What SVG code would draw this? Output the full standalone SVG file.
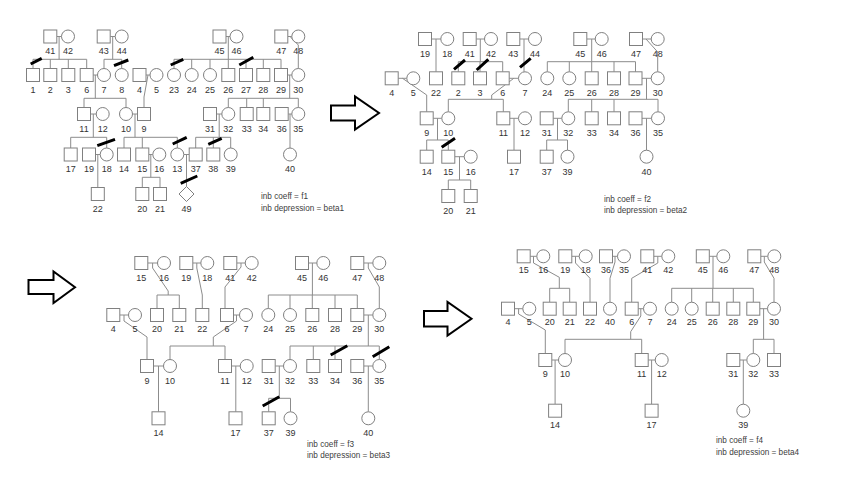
<svg xmlns="http://www.w3.org/2000/svg" width="842" height="498" viewBox="0 0 842 498">
<style>
.s{fill:#fff;stroke:#808080;stroke-width:1}
.l{fill:none;stroke:#8c8c8c;stroke-width:1}
.x{stroke:#000;stroke-width:3;fill:none}
.t{font-family:"Liberation Sans",Arial,sans-serif;font-size:9px;fill:#333;text-anchor:middle}
.n{font-family:"Liberation Sans",Arial,sans-serif;font-size:8.2px;fill:#404040}
.a{fill:#fff;stroke:#000;stroke-width:2;stroke-linejoin:miter}
</style>
<rect width="842" height="498" fill="#fff"/>
<g id="connectors">
<path class="l" d="M56.8,36.5H61.5 M110.2,36.5H115.2 M226,36.5H230 M287.8,36.5H291.8 M93.2,75H97.5 M146,75H150 M287.5,75H291.8 M90.5,114H96.2 M132.5,114H137.5 M216.5,114H221.8 M288.2,114H291.8 M95.5,154.5H100.2 M148.8,154.5H152.8 M183.8,154.5H189.2 M59.1,36.5V59.3 M33,59.3H86.7 M33,59.3V68.5 M50.3,59.3V68.5 M68.3,59.3V68.5 M86.7,59.3V68.5 M112.7,36.5V59.3 M104,59.3H121.7 M104,59.3V68.5 M121.7,59.3V68.5 M228.3,36.5V59.3 M174,59.3H281 M174,59.3V68.5 M191.7,59.3V68.5 M210,59.3V68.5 M228.3,59.3V68.5 M246,59.3V68.5 M263.3,59.3V68.5 M281,59.3V68.5 M290,36.5L298.3,45V68.5 M95.3,75V98.3 M84,98.3H126 M84,98.3V107.5 M126,98.3V107.5 M148,75L144,97V107.5 M289.7,75V98.3 M228.3,98.3H298.3 M228.3,98.3V107.5 M246.7,98.3V107.5 M263.3,98.3V107.5 M298.3,98.3V107.5 M93.3,114V137.3 M70.7,137.3H106.7 M70.7,137.3V148 M106.7,137.3V148 M135,114V137.3 M124,137.3H177.3 M124,137.3V148 M142.3,137.3V148 M177.3,137.3V148 M219.2,114V137.3 M195.7,137.3H230.7 M195.7,137.3V148 M213.3,137.3V148 M230.7,137.3V148 M290,114V148 M97.8,154.5V187.5 M150.8,154.5V177.3 M142.3,177.3H160 M142.3,177.3V187.5 M160,177.3V187.5 M186.5,154.5V186.5"/>
<path class="l" d="M431.5,39H440.8 M476.2,39H484.5 M519.8,39H528.5 M586.8,39H595.2 M642.5,39H651.2 M398.2,78.3H406.8 M509.2,78.3H518.5 M642,78.3H651.2 M433.2,118.3H441.8 M509.8,118.3H518.5 M553.2,118.3H561.8 M642,118.3H651.5 M454.8,156.7H464.2 M436,39V71.8 M480.3,39V61.7 M458.3,61.7H502.7 M458.3,61.7V71.8 M480,61.7V71.8 M502.7,61.7V71.8 M524,39V71.8 M591.7,39V61.7 M547.3,61.7H635.5 M547.3,61.7V71.8 M569.3,61.7V71.8 M591.7,61.7V71.8 M614,61.7V71.8 M635.5,61.7V71.8 M646,39L657.7,52V71.8 M402.5,78.3L426.7,95V111.8 M513.8,78.3L491.7,95V99.3 M448.3,99.3H503.3 M448.3,99.3V111.8 M503.3,99.3V111.8 M646.5,78.3V99.3 M568.3,99.3H658 M568.3,99.3V111.8 M591.7,99.3V111.8 M614,99.3V111.8 M658,99.3V111.8 M437.5,118.3V140 M426.7,140H448.3 M426.7,140V150.2 M448.3,140V150.2 M514,118.3V150.2 M557.5,118.3V140 M546.7,140H567.5 M546.7,140V150.2 M567.5,140V150.2 M646.5,118.3V150.2 M459.5,156.7V180 M448.3,180H470.7 M448.3,180V189.5 M470.7,180V189.5"/>
<path class="l" d="M147.8,263H157.5 M192.8,263H200.8 M236.8,263H245.2 M308.5,263H316.8 M363.8,263H372.8 M119.8,315H128.5 M233.5,315H239.5 M363.8,315H372.8 M153.5,366H163.5 M231.5,366H240.2 M275.2,366H283.5 M363.8,366H372.8 M152.6,263V268L168.2,291V295 M157,295H179.3 M157,295V308.5 M179.3,295V308.5 M196.8,263V268L202.3,295V308.5 M241,263V267L225,287V308.5 M312.4,263V295 M268.3,295H357.3 M268.3,295V308.5 M290,295V308.5 M312.3,295V308.5 M335,295V308.5 M357.3,295V308.5 M368.3,263V268L379.3,287V308.5 M124,315V321L147,337V359.5 M236.5,315V321L213.3,337V346 M170,346H225 M170,346V359.5 M225,346V359.5 M368.3,315V346 M290,346H379.3 M290,346V359.5 M313.3,346V359.5 M335,346V359.5 M379.3,346V359.5 M158.5,366V411.8 M235.8,366V411.8 M279.3,366V398.3 M268.7,398.3H290.5 M268.7,398.3V411.8 M290.5,398.3V411.8 M368.3,366V411.8"/>
<path class="l" d="M530.2,256.3H536.8 M571.8,256.3H579.2 M612.5,256.3H617.5 M653.8,256.3H661.8 M709.3,256.3H716.8 M760.8,256.3H767.8 M514.5,308.7H522.8 M638.2,308.7H643.5 M759.8,308.7H767.5 M551.8,360H558.5 M648.2,360H655.2 M739.8,360H746.5 M533.5,256.3V263L559.3,277.3V288.3 M549.7,288.3H569.7 M549.7,288.3V302.2 M569.7,288.3V302.2 M575.5,256.3V263L590,278.3V302.2 M615,256.3V262L610,278.3V302.2 M657.8,256.3V263L631.7,278.3V302.2 M713,256.3V288.3 M671.7,288.3H753.3 M671.7,288.3V302.2 M691.7,288.3V302.2 M712.7,288.3V302.2 M733.3,288.3V302.2 M753.3,288.3V302.2 M764.3,256.3V262L774,278.3V302.2 M518.6,308.7V314L545.3,330V353.5 M640.8,308.7V316L630.7,331.7V339.3 M565,339.3H641.7 M565,339.3V353.5 M641.7,339.3V353.5 M763.6,308.7V339.3 M753.3,339.3H774 M753.3,339.3V353.5 M774,339.3V353.5 M555.1,360V404.2 M651.6,360V404.2 M743.3,360V404.2"/>
</g>
<g id="panel-f1">
<g id="A41"><rect class="s" x="43.8" y="30" width="13" height="13"/><text class="t" x="50.3" y="54">41</text></g>
<g id="A42"><circle class="s" cx="68" cy="36.5" r="6.5"/><text class="t" x="68" y="54">42</text></g>
<g id="A43"><rect class="s" x="97.2" y="30" width="13" height="13"/><text class="t" x="103.7" y="54">43</text></g>
<g id="A44"><circle class="s" cx="121.7" cy="36.5" r="6.5"/><text class="t" x="121.7" y="54">44</text></g>
<g id="A45"><rect class="s" x="213" y="30" width="13" height="13"/><text class="t" x="219.5" y="54">45</text></g>
<g id="A46"><circle class="s" cx="236.5" cy="36.5" r="6.5"/><text class="t" x="236.5" y="54">46</text></g>
<g id="A47"><rect class="s" x="274.8" y="30" width="13" height="13"/><text class="t" x="281.3" y="54">47</text></g>
<g id="A48"><circle class="s" cx="298.3" cy="36.5" r="6.5"/><text class="t" x="298.3" y="54">48</text></g>
<g id="A1"><rect class="s" x="26.5" y="68.5" width="13" height="13"/><text class="t" x="33" y="92.7">1</text></g>
<g id="A2"><rect class="s" x="43.8" y="68.5" width="13" height="13"/><text class="t" x="50.3" y="92.7">2</text></g>
<g id="A3"><rect class="s" x="61.8" y="68.5" width="13" height="13"/><text class="t" x="68.3" y="92.7">3</text></g>
<g id="A6"><rect class="s" x="80.2" y="68.5" width="13" height="13"/><text class="t" x="86.7" y="92.7">6</text></g>
<g id="A7"><circle class="s" cx="104" cy="75" r="6.5"/><text class="t" x="104" y="92.7">7</text></g>
<g id="A8"><circle class="s" cx="121.7" cy="75" r="6.5"/><text class="t" x="121.7" y="92.7">8</text></g>
<g id="A4"><rect class="s" x="133" y="68.5" width="13" height="13"/><text class="t" x="139.5" y="92.7">4</text></g>
<g id="A5"><circle class="s" cx="156.5" cy="75" r="6.5"/><text class="t" x="156.5" y="92.7">5</text></g>
<g id="A23"><circle class="s" cx="174" cy="75" r="6.5"/><text class="t" x="174" y="92.7">23</text></g>
<g id="A24"><circle class="s" cx="191.7" cy="75" r="6.5"/><text class="t" x="191.7" y="92.7">24</text></g>
<g id="A25"><circle class="s" cx="210" cy="75" r="6.5"/><text class="t" x="210" y="92.7">25</text></g>
<g id="A26"><rect class="s" x="221.8" y="68.5" width="13" height="13"/><text class="t" x="228.3" y="92.7">26</text></g>
<g id="A27"><rect class="s" x="239.5" y="68.5" width="13" height="13"/><text class="t" x="246" y="92.7">27</text></g>
<g id="A28"><rect class="s" x="256.8" y="68.5" width="13" height="13"/><text class="t" x="263.3" y="92.7">28</text></g>
<g id="A29"><rect class="s" x="274.5" y="68.5" width="13" height="13"/><text class="t" x="281" y="92.7">29</text></g>
<g id="A30"><circle class="s" cx="298.3" cy="75" r="6.5"/><text class="t" x="298.3" y="92.7">30</text></g>
<g id="A11"><rect class="s" x="77.5" y="107.5" width="13" height="13"/><text class="t" x="84" y="131.7">11</text></g>
<g id="A12"><circle class="s" cx="102.7" cy="114" r="6.5"/><text class="t" x="102.7" y="131.7">12</text></g>
<g id="A10"><circle class="s" cx="126" cy="114" r="6.5"/><text class="t" x="126" y="131.7">10</text></g>
<g id="A9"><rect class="s" x="137.5" y="107.5" width="13" height="13"/><text class="t" x="144" y="131.7">9</text></g>
<g id="A31"><rect class="s" x="203.5" y="107.5" width="13" height="13"/><text class="t" x="210" y="131.7">31</text></g>
<g id="A32"><circle class="s" cx="228.3" cy="114" r="6.5"/><text class="t" x="228.3" y="131.7">32</text></g>
<g id="A33"><rect class="s" x="240.2" y="107.5" width="13" height="13"/><text class="t" x="246.7" y="131.7">33</text></g>
<g id="A34"><rect class="s" x="256.8" y="107.5" width="13" height="13"/><text class="t" x="263.3" y="131.7">34</text></g>
<g id="A36"><rect class="s" x="275.2" y="107.5" width="13" height="13"/><text class="t" x="281.7" y="131.7">36</text></g>
<g id="A35"><circle class="s" cx="298.3" cy="114" r="6.5"/><text class="t" x="298.3" y="131.7">35</text></g>
<g id="A17"><rect class="s" x="64.2" y="148" width="13" height="13"/><text class="t" x="70.7" y="172.2">17</text></g>
<g id="A19"><rect class="s" x="82.5" y="148" width="13" height="13"/><text class="t" x="89" y="172.2">19</text></g>
<g id="A18"><circle class="s" cx="106.7" cy="154.5" r="6.5"/><text class="t" x="106.7" y="172.2">18</text></g>
<g id="A14"><rect class="s" x="117.5" y="148" width="13" height="13"/><text class="t" x="124" y="172.2">14</text></g>
<g id="A15"><rect class="s" x="135.8" y="148" width="13" height="13"/><text class="t" x="142.3" y="172.2">15</text></g>
<g id="A16"><circle class="s" cx="159.3" cy="154.5" r="6.5"/><text class="t" x="159.3" y="172.2">16</text></g>
<g id="A13"><circle class="s" cx="177.3" cy="154.5" r="6.5"/><text class="t" x="177.3" y="172.2">13</text></g>
<g id="A37"><rect class="s" x="189.2" y="148" width="13" height="13"/><text class="t" x="195.7" y="172.2">37</text></g>
<g id="A38"><rect class="s" x="206.8" y="148" width="13" height="13"/><text class="t" x="213.3" y="172.2">38</text></g>
<g id="A39"><circle class="s" cx="230.7" cy="154.5" r="6.5"/><text class="t" x="230.7" y="172.2">39</text></g>
<g id="A40"><circle class="s" cx="290" cy="154.5" r="6.5"/><text class="t" x="290" y="172.2">40</text></g>
<g id="A22"><rect class="s" x="91.3" y="187.5" width="13" height="13"/><text class="t" x="97.8" y="211.7">22</text></g>
<g id="A20"><rect class="s" x="135.8" y="187.5" width="13" height="13"/><text class="t" x="142.3" y="211.7">20</text></g>
<g id="A21"><rect class="s" x="153.5" y="187.5" width="13" height="13"/><text class="t" x="160" y="211.7">21</text></g>
<g id="A49"><polygon class="s" points="186.5,186.5 194,194 186.5,201.5 179,194"/><text class="t" x="186.5" y="211.7">49</text></g>
<g id="A-note"><text class="n" x="261" y="199">inb coeff = f1</text><text class="n" x="261" y="211">inb depression = beta1</text></g>
</g>
<g id="panel-f2">
<g id="B19"><rect class="s" x="418.5" y="32.5" width="13" height="13"/><text class="t" x="425" y="56.5">19</text></g>
<g id="B18"><circle class="s" cx="447.3" cy="39" r="6.5"/><text class="t" x="447.3" y="56.5">18</text></g>
<g id="B41"><rect class="s" x="463.2" y="32.5" width="13" height="13"/><text class="t" x="469.7" y="56.5">41</text></g>
<g id="B42"><circle class="s" cx="491" cy="39" r="6.5"/><text class="t" x="491" y="56.5">42</text></g>
<g id="B43"><rect class="s" x="506.8" y="32.5" width="13" height="13"/><text class="t" x="513.3" y="56.5">43</text></g>
<g id="B44"><circle class="s" cx="535" cy="39" r="6.5"/><text class="t" x="535" y="56.5">44</text></g>
<g id="B45"><rect class="s" x="573.8" y="32.5" width="13" height="13"/><text class="t" x="580.3" y="56.5">45</text></g>
<g id="B46"><circle class="s" cx="601.7" cy="39" r="6.5"/><text class="t" x="601.7" y="56.5">46</text></g>
<g id="B47"><rect class="s" x="629.5" y="32.5" width="13" height="13"/><text class="t" x="636" y="56.5">47</text></g>
<g id="B48"><circle class="s" cx="657.7" cy="39" r="6.5"/><text class="t" x="657.7" y="56.5">48</text></g>
<g id="B4"><rect class="s" x="385.2" y="71.8" width="13" height="13"/><text class="t" x="391.7" y="95.5">4</text></g>
<g id="B5"><circle class="s" cx="413.3" cy="78.3" r="6.5"/><text class="t" x="413.3" y="95.5">5</text></g>
<g id="B22"><rect class="s" x="429.5" y="71.8" width="13" height="13"/><text class="t" x="436" y="95.5">22</text></g>
<g id="B2"><rect class="s" x="451.8" y="71.8" width="13" height="13"/><text class="t" x="458.3" y="95.5">2</text></g>
<g id="B3"><rect class="s" x="473.5" y="71.8" width="13" height="13"/><text class="t" x="480" y="95.5">3</text></g>
<g id="B6"><rect class="s" x="496.2" y="71.8" width="13" height="13"/><text class="t" x="502.7" y="95.5">6</text></g>
<g id="B7"><circle class="s" cx="525" cy="78.3" r="6.5"/><text class="t" x="525" y="95.5">7</text></g>
<g id="B24"><circle class="s" cx="547.3" cy="78.3" r="6.5"/><text class="t" x="547.3" y="95.5">24</text></g>
<g id="B25"><circle class="s" cx="569.3" cy="78.3" r="6.5"/><text class="t" x="569.3" y="95.5">25</text></g>
<g id="B26"><rect class="s" x="585.2" y="71.8" width="13" height="13"/><text class="t" x="591.7" y="95.5">26</text></g>
<g id="B28"><rect class="s" x="607.5" y="71.8" width="13" height="13"/><text class="t" x="614" y="95.5">28</text></g>
<g id="B29"><rect class="s" x="629" y="71.8" width="13" height="13"/><text class="t" x="635.5" y="95.5">29</text></g>
<g id="B30"><circle class="s" cx="657.7" cy="78.3" r="6.5"/><text class="t" x="657.7" y="95.5">30</text></g>
<g id="B9"><rect class="s" x="420.2" y="111.8" width="13" height="13"/><text class="t" x="426.7" y="135.7">9</text></g>
<g id="B10"><circle class="s" cx="448.3" cy="118.3" r="6.5"/><text class="t" x="448.3" y="135.7">10</text></g>
<g id="B11"><rect class="s" x="496.8" y="111.8" width="13" height="13"/><text class="t" x="503.3" y="135.7">11</text></g>
<g id="B12"><circle class="s" cx="525" cy="118.3" r="6.5"/><text class="t" x="525" y="135.7">12</text></g>
<g id="B31"><rect class="s" x="540.2" y="111.8" width="13" height="13"/><text class="t" x="546.7" y="135.7">31</text></g>
<g id="B32"><circle class="s" cx="568.3" cy="118.3" r="6.5"/><text class="t" x="568.3" y="135.7">32</text></g>
<g id="B33"><rect class="s" x="585.2" y="111.8" width="13" height="13"/><text class="t" x="591.7" y="135.7">33</text></g>
<g id="B34"><rect class="s" x="607.5" y="111.8" width="13" height="13"/><text class="t" x="614" y="135.7">34</text></g>
<g id="B36"><rect class="s" x="629" y="111.8" width="13" height="13"/><text class="t" x="635.5" y="135.7">36</text></g>
<g id="B35"><circle class="s" cx="658" cy="118.3" r="6.5"/><text class="t" x="658" y="135.7">35</text></g>
<g id="B14"><rect class="s" x="420.2" y="150.2" width="13" height="13"/><text class="t" x="426.7" y="174.5">14</text></g>
<g id="B15"><rect class="s" x="441.8" y="150.2" width="13" height="13"/><text class="t" x="448.3" y="174.5">15</text></g>
<g id="B16"><circle class="s" cx="470.7" cy="156.7" r="6.5"/><text class="t" x="470.7" y="174.5">16</text></g>
<g id="B17"><rect class="s" x="507.5" y="150.2" width="13" height="13"/><text class="t" x="514" y="174.5">17</text></g>
<g id="B37"><rect class="s" x="540.2" y="150.2" width="13" height="13"/><text class="t" x="546.7" y="174.5">37</text></g>
<g id="B39"><circle class="s" cx="567.5" cy="156.7" r="6.5"/><text class="t" x="567.5" y="174.5">39</text></g>
<g id="B40"><circle class="s" cx="646.5" cy="156.7" r="6.5"/><text class="t" x="646.5" y="174.5">40</text></g>
<g id="B20"><rect class="s" x="441.8" y="189.5" width="13" height="13"/><text class="t" x="448.3" y="213.5">20</text></g>
<g id="B21"><rect class="s" x="464.2" y="189.5" width="13" height="13"/><text class="t" x="470.7" y="213.5">21</text></g>
<g id="B-note"><text class="n" x="604" y="202">inb coeff = f2</text><text class="n" x="604" y="213">inb depression = beta2</text></g>
</g>
<g id="panel-f3">
<g id="C15"><rect class="s" x="134.8" y="256.5" width="13" height="13"/><text class="t" x="141.3" y="280.5">15</text></g>
<g id="C16"><circle class="s" cx="164" cy="263" r="6.5"/><text class="t" x="164" y="280.5">16</text></g>
<g id="C19"><rect class="s" x="179.8" y="256.5" width="13" height="13"/><text class="t" x="186.3" y="280.5">19</text></g>
<g id="C18"><circle class="s" cx="207.3" cy="263" r="6.5"/><text class="t" x="207.3" y="280.5">18</text></g>
<g id="C41"><rect class="s" x="223.8" y="256.5" width="13" height="13"/><text class="t" x="230.3" y="280.5">41</text></g>
<g id="C42"><circle class="s" cx="251.7" cy="263" r="6.5"/><text class="t" x="251.7" y="280.5">42</text></g>
<g id="C45"><rect class="s" x="295.5" y="256.5" width="13" height="13"/><text class="t" x="302" y="280.5">45</text></g>
<g id="C46"><circle class="s" cx="323.3" cy="263" r="6.5"/><text class="t" x="323.3" y="280.5">46</text></g>
<g id="C47"><rect class="s" x="350.8" y="256.5" width="13" height="13"/><text class="t" x="357.3" y="280.5">47</text></g>
<g id="C48"><circle class="s" cx="379.3" cy="263" r="6.5"/><text class="t" x="379.3" y="280.5">48</text></g>
<g id="C4"><rect class="s" x="106.8" y="308.5" width="13" height="13"/><text class="t" x="113.3" y="331.7">4</text></g>
<g id="C5"><circle class="s" cx="135" cy="315" r="6.5"/><text class="t" x="135" y="331.7">5</text></g>
<g id="C20"><rect class="s" x="150.5" y="308.5" width="13" height="13"/><text class="t" x="157" y="331.7">20</text></g>
<g id="C21"><rect class="s" x="172.8" y="308.5" width="13" height="13"/><text class="t" x="179.3" y="331.7">21</text></g>
<g id="C22"><rect class="s" x="195.8" y="308.5" width="13" height="13"/><text class="t" x="202.3" y="331.7">22</text></g>
<g id="C6"><rect class="s" x="220.5" y="308.5" width="13" height="13"/><text class="t" x="227" y="331.7">6</text></g>
<g id="C7"><circle class="s" cx="246" cy="315" r="6.5"/><text class="t" x="246" y="331.7">7</text></g>
<g id="C24"><circle class="s" cx="268.3" cy="315" r="6.5"/><text class="t" x="268.3" y="331.7">24</text></g>
<g id="C25"><circle class="s" cx="290" cy="315" r="6.5"/><text class="t" x="290" y="331.7">25</text></g>
<g id="C26"><rect class="s" x="305.8" y="308.5" width="13" height="13"/><text class="t" x="312.3" y="331.7">26</text></g>
<g id="C28"><rect class="s" x="328.5" y="308.5" width="13" height="13"/><text class="t" x="335" y="331.7">28</text></g>
<g id="C29"><rect class="s" x="350.8" y="308.5" width="13" height="13"/><text class="t" x="357.3" y="331.7">29</text></g>
<g id="C30"><circle class="s" cx="379.3" cy="315" r="6.5"/><text class="t" x="379.3" y="331.7">30</text></g>
<g id="C9"><rect class="s" x="140.5" y="359.5" width="13" height="13"/><text class="t" x="147" y="384">9</text></g>
<g id="C10"><circle class="s" cx="170" cy="366" r="6.5"/><text class="t" x="170" y="384">10</text></g>
<g id="C11"><rect class="s" x="218.5" y="359.5" width="13" height="13"/><text class="t" x="225" y="384">11</text></g>
<g id="C12"><circle class="s" cx="246.7" cy="366" r="6.5"/><text class="t" x="246.7" y="384">12</text></g>
<g id="C31"><rect class="s" x="262.2" y="359.5" width="13" height="13"/><text class="t" x="268.7" y="384">31</text></g>
<g id="C32"><circle class="s" cx="290" cy="366" r="6.5"/><text class="t" x="290" y="384">32</text></g>
<g id="C33"><rect class="s" x="306.8" y="359.5" width="13" height="13"/><text class="t" x="313.3" y="384">33</text></g>
<g id="C34"><rect class="s" x="328.5" y="359.5" width="13" height="13"/><text class="t" x="335" y="384">34</text></g>
<g id="C36"><rect class="s" x="350.8" y="359.5" width="13" height="13"/><text class="t" x="357.3" y="384">36</text></g>
<g id="C35"><circle class="s" cx="379.3" cy="366" r="6.5"/><text class="t" x="379.3" y="384">35</text></g>
<g id="C14"><rect class="s" x="152" y="411.8" width="13" height="13"/><text class="t" x="158.5" y="436">14</text></g>
<g id="C17"><rect class="s" x="229" y="411.8" width="13" height="13"/><text class="t" x="235.5" y="436">17</text></g>
<g id="C37"><rect class="s" x="262.2" y="411.8" width="13" height="13"/><text class="t" x="268.7" y="436">37</text></g>
<g id="C39"><circle class="s" cx="290.5" cy="418.3" r="6.5"/><text class="t" x="290.5" y="436">39</text></g>
<g id="C40"><circle class="s" cx="368.3" cy="418.3" r="6.5"/><text class="t" x="368.3" y="436">40</text></g>
<g id="C-note"><text class="n" x="307" y="447">inb coeff = f3</text><text class="n" x="307" y="458">inb depression = beta3</text></g>
</g>
<g id="panel-f4">
<g id="D15"><rect class="s" x="517.2" y="249.8" width="13" height="13"/><text class="t" x="523.7" y="273">15</text></g>
<g id="D16"><circle class="s" cx="543.3" cy="256.3" r="6.5"/><text class="t" x="543.3" y="273">16</text></g>
<g id="D19"><rect class="s" x="558.8" y="249.8" width="13" height="13"/><text class="t" x="565.3" y="273">19</text></g>
<g id="D18"><circle class="s" cx="585.7" cy="256.3" r="6.5"/><text class="t" x="585.7" y="273">18</text></g>
<g id="D36"><rect class="s" x="599.5" y="249.8" width="13" height="13"/><text class="t" x="606" y="273">36</text></g>
<g id="D35"><circle class="s" cx="624" cy="256.3" r="6.5"/><text class="t" x="624" y="273">35</text></g>
<g id="D41"><rect class="s" x="640.8" y="249.8" width="13" height="13"/><text class="t" x="647.3" y="273">41</text></g>
<g id="D42"><circle class="s" cx="668.3" cy="256.3" r="6.5"/><text class="t" x="668.3" y="273">42</text></g>
<g id="D45"><rect class="s" x="696.3" y="249.8" width="13" height="13"/><text class="t" x="702.8" y="273">45</text></g>
<g id="D46"><circle class="s" cx="723.3" cy="256.3" r="6.5"/><text class="t" x="723.3" y="273">46</text></g>
<g id="D47"><rect class="s" x="747.8" y="249.8" width="13" height="13"/><text class="t" x="754.3" y="273">47</text></g>
<g id="D48"><circle class="s" cx="774.3" cy="256.3" r="6.5"/><text class="t" x="774.3" y="273">48</text></g>
<g id="D4"><rect class="s" x="501.5" y="302.2" width="13" height="13"/><text class="t" x="508" y="325">4</text></g>
<g id="D5"><circle class="s" cx="529.3" cy="308.7" r="6.5"/><text class="t" x="529.3" y="325">5</text></g>
<g id="D20"><rect class="s" x="543.2" y="302.2" width="13" height="13"/><text class="t" x="549.7" y="325">20</text></g>
<g id="D21"><rect class="s" x="563.2" y="302.2" width="13" height="13"/><text class="t" x="569.7" y="325">21</text></g>
<g id="D22"><rect class="s" x="583.5" y="302.2" width="13" height="13"/><text class="t" x="590" y="325">22</text></g>
<g id="D40"><circle class="s" cx="610" cy="308.7" r="6.5"/><text class="t" x="610" y="325">40</text></g>
<g id="D6"><rect class="s" x="625.2" y="302.2" width="13" height="13"/><text class="t" x="631.7" y="325">6</text></g>
<g id="D7"><circle class="s" cx="650" cy="308.7" r="6.5"/><text class="t" x="650" y="325">7</text></g>
<g id="D24"><circle class="s" cx="671.7" cy="308.7" r="6.5"/><text class="t" x="671.7" y="325">24</text></g>
<g id="D25"><circle class="s" cx="691.7" cy="308.7" r="6.5"/><text class="t" x="691.7" y="325">25</text></g>
<g id="D26"><rect class="s" x="706.2" y="302.2" width="13" height="13"/><text class="t" x="712.7" y="325">26</text></g>
<g id="D28"><rect class="s" x="726.8" y="302.2" width="13" height="13"/><text class="t" x="733.3" y="325">28</text></g>
<g id="D29"><rect class="s" x="746.8" y="302.2" width="13" height="13"/><text class="t" x="753.3" y="325">29</text></g>
<g id="D30"><circle class="s" cx="774" cy="308.7" r="6.5"/><text class="t" x="774" y="325">30</text></g>
<g id="D9"><rect class="s" x="538.8" y="353.5" width="13" height="13"/><text class="t" x="545.3" y="376.8">9</text></g>
<g id="D10"><circle class="s" cx="565" cy="360" r="6.5"/><text class="t" x="565" y="376.8">10</text></g>
<g id="D11"><rect class="s" x="635.2" y="353.5" width="13" height="13"/><text class="t" x="641.7" y="376.8">11</text></g>
<g id="D12"><circle class="s" cx="661.7" cy="360" r="6.5"/><text class="t" x="661.7" y="376.8">12</text></g>
<g id="D31"><rect class="s" x="726.8" y="353.5" width="13" height="13"/><text class="t" x="733.3" y="376.8">31</text></g>
<g id="D32"><circle class="s" cx="753.3" cy="360" r="6.5"/><text class="t" x="753.3" y="376.8">32</text></g>
<g id="D33"><rect class="s" x="767.5" y="353.5" width="13" height="13"/><text class="t" x="774" y="376.8">33</text></g>
<g id="D14"><rect class="s" x="548.6" y="404.2" width="13" height="13"/><text class="t" x="555.1" y="428">14</text></g>
<g id="D17"><rect class="s" x="645.1" y="404.2" width="13" height="13"/><text class="t" x="651.6" y="428">17</text></g>
<g id="D39"><circle class="s" cx="743.3" cy="410.7" r="6.5"/><text class="t" x="743.3" y="428">39</text></g>
<g id="D-note"><text class="n" x="716" y="443">inb coeff = f4</text><text class="n" x="716" y="455">inb depression = beta4</text></g>
</g>
<g id="marks">
<path class="x" d="M30.7,64L41.7,58.3 M114,65.7L128.3,60 M170.7,65L183.3,59.3 M239.3,65L253.3,57.3 M97.3,145.7L115,139.3 M172.7,144L186.7,137.3 M208.3,144.3L221.7,138.3 M180.7,183.3L197.3,176"/>
<path class="x" d="M454,69.3L465,60 M476.7,70L488.3,59.3 M520,67.3L530.7,58.3 M441.7,147.3L455,138.3"/>
<path class="x" d="M330.7,355L347.3,345.7 M372.7,356.7L389.3,346.7 M262.7,406L279.3,396.7"/>
</g>
<g id="arrows">
<polygon class="a" points="331,105.5 355,105.5 355,96.5 379,113 355,129.5 355,120.5 331,120.5"/>
<polygon class="a" points="28.5,280 53.5,280 53.5,271.5 75,287.3 53.5,303 53.5,294 28.5,294"/>
<polygon class="a" points="424,311 447.5,311 447.5,302 471.5,318.7 447.5,335.5 447.5,326.5 424,326.5"/>
</g>
</svg>
